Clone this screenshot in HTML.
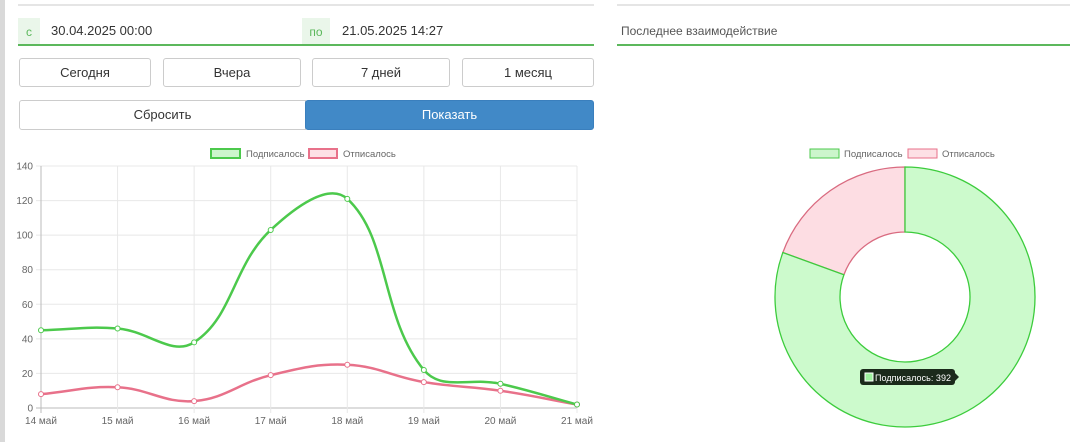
<!DOCTYPE html>
<html><head><meta charset="utf-8"><style>
body{margin:0;width:1070px;height:442px;background:#fff;font-family:"Liberation Sans",sans-serif;position:relative;overflow:hidden}
.a{position:absolute}
.btn{position:absolute;border:1px solid #ccc;border-radius:3px;background:#fff;text-align:center;font-size:13px;color:#333;box-sizing:border-box}
</style></head><body>
<div class="a" style="left:0;top:0;width:5px;height:442px;background:#d9d9d9"></div>
<div class="a" style="left:18px;top:4px;width:576px;height:2px;background:#e5e5e5"></div>
<div class="a" style="left:617px;top:4px;width:453px;height:2px;background:#e5e5e5"></div>
<div class="a" style="left:18px;top:18px;width:22px;height:27px;background:#eaf6ea;color:#5cb85c;font-size:12px;line-height:28px;text-align:center">с</div>
<div class="a" style="left:51px;top:23px;font-size:13px;color:#333">30.04.2025 00:00</div>
<div class="a" style="left:302px;top:18px;width:28px;height:27px;background:#eaf6ea;color:#5cb85c;font-size:12px;line-height:28px;text-align:center">по</div>
<div class="a" style="left:342px;top:23px;font-size:13px;color:#333">21.05.2025 14:27</div>
<div class="a" style="left:18px;top:44px;width:576px;height:2px;background:#5cb85c"></div>
<div class="a" style="left:621px;top:24px;font-size:12px;color:#555">Последнее взаимодействие</div>
<div class="a" style="left:617px;top:44px;width:453px;height:2px;background:#5cb85c"></div>
<div class="btn" style="left:19px;top:58px;width:132px;height:29px;line-height:27px">Сегодня</div>
<div class="btn" style="left:163px;top:58px;width:138px;height:29px;line-height:27px">Вчера</div>
<div class="btn" style="left:312px;top:58px;width:138px;height:29px;line-height:27px">7 дней</div>
<div class="btn" style="left:462px;top:58px;width:132px;height:29px;line-height:27px">1 месяц</div>
<div class="btn" style="left:19px;top:100px;width:287px;height:30px;line-height:28px;border-radius:3px 0 0 3px">Сбросить</div>
<div class="btn" style="left:305px;top:100px;width:289px;height:30px;line-height:28px;background:#4189c7;border-color:#3a7fbd;color:#fff">Показать</div>
<svg class="a" style="left:0;top:0" width="1070" height="442" id="s" font-family="Liberation Sans, sans-serif"></svg>
<script>
var s=document.getElementById('s'),h='';
var x0=41,dx=(577-41)/7,y0=408,k=(408-166)/140;
function X(i){return x0+i*dx} function Y(v){return y0-v*k}
for(var v=0;v<=140;v+=20){h+='<line x1="36" x2="577" y1="'+Y(v)+'" y2="'+Y(v)+'" stroke="'+(v?'#e8e8e8':'#bbb')+'"/>';h+='<text x="33" y="'+(Y(v)+3.5)+'" font-size="10" fill="#666" text-anchor="end">'+v+'</text>'}
var lb=['14 май','15 май','16 май','17 май','18 май','19 май','20 май','21 май'];
for(var i=0;i<8;i++){h+='<line x1="'+X(i)+'" x2="'+X(i)+'" y1="166" y2="413" stroke="'+(i?'#e8e8e8':'#bbb')+'"/>';h+='<text x="'+X(i)+'" y="424" font-size="10" fill="#666" text-anchor="middle">'+lb[i]+'</text>'}
function path(d,c){var p=d.map(function(v,i){return[X(i),Y(v)]}),t=0.4,str='M'+p[0];
var cp=p.map(function(q,i){var a=p[Math.max(i-1,0)],b=p[Math.min(i+1,p.length-1)];var d01=Math.hypot(q[0]-a[0],q[1]-a[1]),d12=Math.hypot(b[0]-q[0],b[1]-q[1]);var s01=d01/(d01+d12||1),s12=d12/(d01+d12||1);var fa=t*s01,fb=t*s12;return[[q[0]-fa*(b[0]-a[0]),q[1]-fa*(b[1]-a[1])],[q[0]+fb*(b[0]-a[0]),q[1]+fb*(b[1]-a[1])]]});
for(var i=1;i<p.length;i++)str+=' C'+cp[i-1][1]+' '+cp[i][0]+' '+p[i];
var r='<path d="'+str+'" fill="none" stroke="'+c+'" stroke-width="2.5"/>';
p.forEach(function(q){r+='<circle cx="'+q[0]+'" cy="'+q[1]+'" r="2.5" fill="#fff" stroke="'+c+'"/>'});return r}
h+=path([8,12,4,19,25,15,10,2],'#e8718a');
h+=path([45,46,38,103,121,22,14,2],'#4cc94c');
h+='<rect x="211" y="149" width="29" height="9" fill="#ccf5cc" stroke="#4cc94c" stroke-width="2"/><text x="246" y="157" font-size="9.5" fill="#666">Подписалось</text>';
h+='<rect x="309" y="149" width="28" height="9" fill="#fde0e5" stroke="#e8718a" stroke-width="2"/><text x="343" y="157" font-size="9.5" fill="#666">Отписалось</text>';
h+='<rect x="810" y="149" width="29" height="9" fill="#ccf5cc" stroke="#4cc94c"/><text x="844" y="157" font-size="9.5" fill="#666">Подписалось</text>';
h+='<rect x="908" y="149" width="29" height="9" fill="#fde0e5" stroke="#e8718a"/><text x="942" y="157" font-size="9.5" fill="#666">Отписалось</text>';
var cx=905,cy=297,R=130,r=65;
function pt(a,rr){a=a*Math.PI/180;return[cx+rr*Math.sin(a),cy-rr*Math.cos(a)]}
function seg(a1,a2,f,st){var A=pt(a1,R),B=pt(a2,R),C=pt(a2,r),D=pt(a1,r),L=(a2-a1)>180?1:0;
return '<path d="M'+A+' A'+R+' '+R+' 0 '+L+' 1 '+B+' L'+C+' A'+r+' '+r+' 0 '+L+' 0 '+D+' Z" fill="'+f+'" stroke="'+st+'" stroke-width="1.3"/>'}
h+=seg(290,360,'#fddde3','#d96b80');
h+=seg(0,290,'#ccfacc','#3ccc3c');
h+='<rect x="860" y="369" width="95" height="16" rx="3" fill="#1b2a1b"/><path d="M955 373 L959 377 L955 381Z" fill="#1b2a1b"/><rect x="865" y="373" width="8" height="8" fill="#9ef09e" stroke="#fff"/><text x="875" y="381" font-size="9" fill="#fff" textLength="76">Подписалось: 392</text>';
s.innerHTML=h;
</script>
</body></html>
